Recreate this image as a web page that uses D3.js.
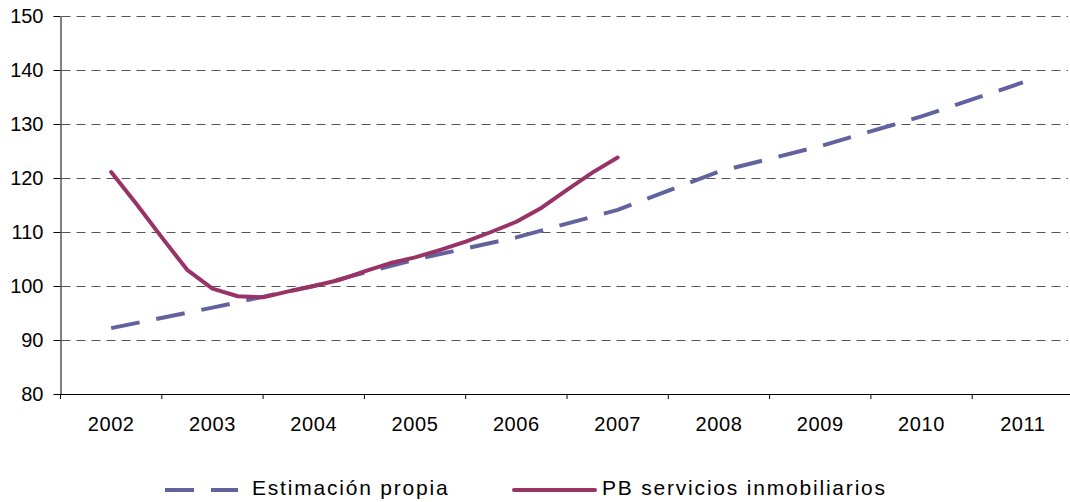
<!DOCTYPE html>
<html>
<head>
<meta charset="utf-8">
<script src="https://cdn.jsdelivr.net/npm/d3@7"></script>
<style>
  body { margin: 0; background: #fff; }
  svg { display: block; font-family: "Liberation Sans", Arial, sans-serif; }
  .axis path, .axis line { stroke: #000; }
  .axis text { fill: #000; font-size: 20px; }
</style>
</head>
<body>
<div id="chart"></div>
<script>
// categories on the x axis
const years = [2002, 2003, 2004, 2005, 2006, 2007, 2008, 2009, 2010, 2011]
const yTicks = [80, 90, 100, 110, 120, 130, 140, 150]

// Estimación propia (annual)
const estYears = [2002, 2003, 2004, 2005, 2006, 2007, 2008, 2009, 2010, 2011]
const estValues = [92.2, 96.0, 100.0, 104.9, 109.0, 114.1, 121.2, 125.9, 131.4, 137.7]

// PB servicios inmobiliarios (quarterly, 2002 to 2007)
const pbTimes = [2002, 2002.25, 2002.5, 2002.75, 2003, 2003.25, 2003.5, 2003.75,
  2004, 2004.25, 2004.5, 2004.75, 2005, 2005.25, 2005.5, 2005.75,
  2006, 2006.25, 2006.5, 2006.75, 2007]
const pbValues = [121.1, 115.2, 109.0, 103.0, 99.5, 98.1, 97.9, 99.0,
  100.0, 101.1, 102.7, 104.2, 105.3, 106.7, 108.2, 110.0,
  111.9, 114.5, 117.8, 121.0, 123.8]

const seriesNames = ['Estimación propia', 'PB servicios inmobiliarios']
const colors = ['#62629e', '#993366']

const width = 1070, height = 502
const margin = { left: 60.5, right: 1073.5, top: 16, bottom: 394 }

const svg = d3.select('#chart').append('svg')
  .attr('width', width)
  .attr('height', height)

const band = d3.scaleBand().domain(years).range([margin.left, margin.right])
const x = d3.scaleLinear()
  .domain([years[0] - 0.5, years[years.length - 1] + 0.5])
  .range([margin.left, margin.right])
const y = d3.scaleLinear().domain([80, 150]).range([margin.bottom, margin.top])

// gridlines
svg.append('g')
  .attr('class', 'grid')
  .selectAll('line')
  .data(yTicks.filter(d => d > 80))
  .enter()
  .append('line')
  .attr('x1', margin.left + 1)
  .attr('x2', 1068)
  .attr('y1', d => Math.round(y(d)) + 0.5)
  .attr('y2', d => Math.round(y(d)) + 0.5)
  .style('stroke', '#555')
  .style('stroke-width', 1)
  .style('stroke-dasharray', '9,6')

// y axis
svg.append('g')
  .attr('class', 'axis')
  .attr('transform', `translate(${margin.left},0)`)
  .call(d3.axisLeft(y).tickValues(yTicks).tickSize(7).tickPadding(10).tickSizeOuter(0))

// x axis: labels centred in each category, ticks at the boundaries
const xAxis = svg.append('g')
  .attr('class', 'axis')
  .attr('transform', `translate(0,${margin.bottom})`)
xAxis.call(d3.axisBottom(band).tickSize(0).tickPadding(23).tickSizeOuter(0))
xAxis.selectAll('.tick text').style('letter-spacing', '0.6px')
xAxis.selectAll('.boundary')
  .data(years.map((d, i) => i).concat([years.length]))
  .enter()
  .append('line')
  .attr('class', 'boundary')
  .attr('x1', i => margin.left + i * band.step())
  .attr('x2', i => margin.left + i * band.step())
  .attr('y1', 0)
  .attr('y2', 5)

// lines
const line = d3.line()
  .x(d => x(d[0]))
  .y(d => y(d[1]))

svg.append('path')
  .datum(d3.zip(estYears, estValues))
  .attr('d', line)
  .attr('fill', 'none')
  .style('stroke', colors[0])
  .style('stroke-width', 4)
  .style('stroke-dasharray', '29,17')

svg.append('path')
  .datum(d3.zip(pbTimes, pbValues))
  .attr('d', line)
  .attr('fill', 'none')
  .style('stroke', colors[1])
  .style('stroke-width', 4)
  .style('stroke-linejoin', 'round')
  .style('stroke-linecap', 'round')

// legend
const legendItems = [
  { x1: 165, x2: 238, tx: 252, dash: '29,17', w: 4, cap: 'butt' },
  { x1: 514, x2: 595, tx: 602, dash: null, w: 4, cap: 'round' }
]
const legend = svg.append('g').attr('class', 'legend')
legendItems.forEach((it, i) => {
  legend.append('line')
    .attr('x1', it.x1)
    .attr('x2', it.x2)
    .attr('y1', 490)
    .attr('y2', 490)
    .style('stroke', colors[i])
    .style('stroke-width', it.w)
    .style('stroke-linecap', it.cap)
    .style('stroke-dasharray', it.dash)
  legend.append('text')
    .attr('x', it.tx)
    .attr('y', 495)
    .style('font-size', '21px')
    .style('letter-spacing', '1.8px')
    .attr('fill', '#000')
    .text(seriesNames[i])
})
</script>
</body>
</html>
